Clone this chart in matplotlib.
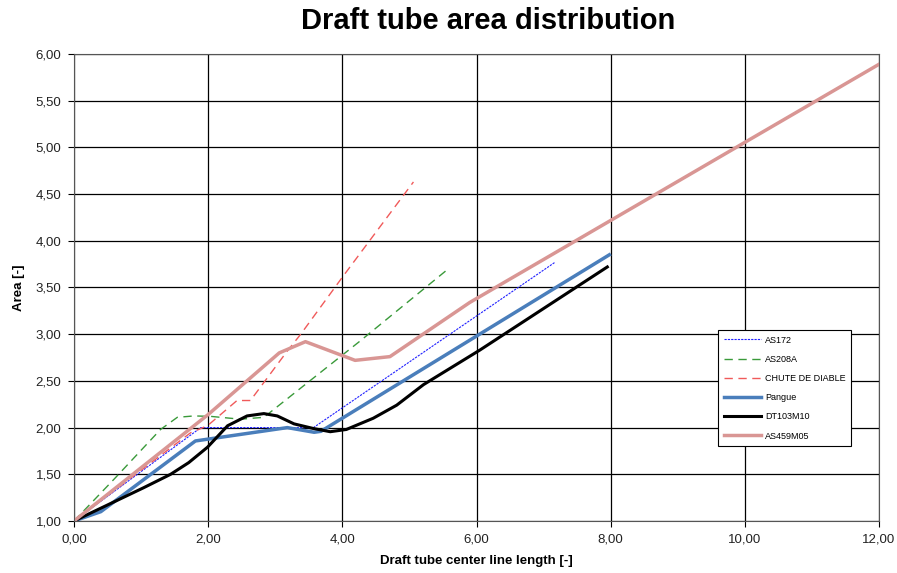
import matplotlib
matplotlib.use("Agg")
import matplotlib.pyplot as plt
from matplotlib.ticker import FuncFormatter

plt.rcParams['font.family'] = ['Liberation Sans', 'DejaVu Sans']

# AS172
as172_x = [0.0, 1.89, 3.57, 7.17]
as172_y = [1.0, 2.0, 2.0, 3.77]

# AS208A
as208_x = [0.0, 0.6, 1.29, 1.54, 1.79, 2.04, 2.48, 2.83, 4.27, 5.58]
as208_y = [1.0, 1.45, 1.98, 2.11, 2.125, 2.12, 2.09, 2.11, 2.93, 3.70]

# CHUTE DE DIABLE
chute_x = [0.0, 1.74, 1.99, 2.43, 2.63, 3.18, 3.38, 4.0, 5.06]
chute_y = [1.0, 1.946, 2.02, 2.29, 2.29, 2.82, 3.0, 3.61, 4.63]

# Pangue
pangue_x = [0.0, 0.4, 1.81, 3.18, 3.58, 3.68, 7.98]
pangue_y = [1.0, 1.1, 1.857, 2.0, 1.95, 1.96, 3.85]

# DT103M10
dt_x = [0.0, 1.04, 1.44, 1.71, 1.99, 2.29, 2.58, 2.83, 3.03, 3.28, 3.57, 3.82,
        4.06, 4.46, 4.81, 5.21, 6.05, 7.95]
dt_y = [1.0, 1.357, 1.5, 1.625, 1.79, 2.02, 2.125, 2.15, 2.125, 2.04, 1.99, 1.956,
        1.98, 2.10, 2.24, 2.46, 2.83, 3.72]

# AS459M05
as459_x = [0.0, 2.0, 3.06, 3.45, 4.19, 4.71, 5.9, 12.0]
as459_y = [1.0, 2.14, 2.80, 2.92, 2.72, 2.76, 3.34, 5.89]

fig = plt.figure(figsize=(8.97, 5.73), dpi=100)
ax = fig.add_axes([74 / 897, 1 - 521 / 573, 805 / 897, 467 / 573])

ax.plot(as172_x, as172_y, color='#2020ff', lw=0.8, ls=(0, (2, 1)), label='AS172')
ax.plot(as208_x, as208_y, color='#3a9a3a', lw=1.0, ls=(0, (6, 4)), label='AS208A')
ax.plot(chute_x, chute_y, color='#f05a5a', lw=1.0, ls=(0, (6, 4)), label='CHUTE DE DIABLE')
ax.plot(pangue_x, pangue_y, color='#4a7ebb', lw=2.5, label='Pangue')
ax.plot(dt_x, dt_y, color='black', lw=2.2, label='DT103M10')
ax.plot(as459_x, as459_y, color='#d99694', lw=2.5, label='AS459M05')

ax.set_xlim(0, 12)
ax.set_ylim(1, 6)
ax.set_xticks(range(0, 13, 2))
ax.set_yticks([1 + 0.5 * i for i in range(11)])
fmt = FuncFormatter(lambda v, p: f"{v:.2f}".replace('.', ','))
ax.xaxis.set_major_formatter(fmt)
ax.yaxis.set_major_formatter(fmt)
ax.tick_params(labelsize=9.5, direction='out', length=4, width=0.8, colors='black',
               labelcolor='#222222', pad=5)
ax.grid(True, color='black', lw=0.9)
for s in ax.spines.values():
    s.set_color('#555555')
    s.set_linewidth(0.8)

ax.set_xlabel('Draft tube center line length [-]', fontsize=9.5, fontweight='bold', labelpad=7)
ax.set_ylabel('Area [-]', fontsize=9.5, fontweight='bold', labelpad=8)

fig.text(488 / 897, 1 - 21 / 573, 'Draft tube area distribution', fontsize=21,
         fontweight='bold', ha='center', va='center')

leg = ax.legend(loc='upper left', bbox_to_anchor=((718 - 74) / 805, (521 - 330) / 467),
                fontsize=6.5, frameon=True, fancybox=False, edgecolor='black',
                framealpha=1, handlelength=4.1, labelspacing=1.13, borderpad=0.62,
                handletextpad=0.5, borderaxespad=0)
leg.get_frame().set_linewidth(0.8)

fig.savefig('out.png', dpi=100)
